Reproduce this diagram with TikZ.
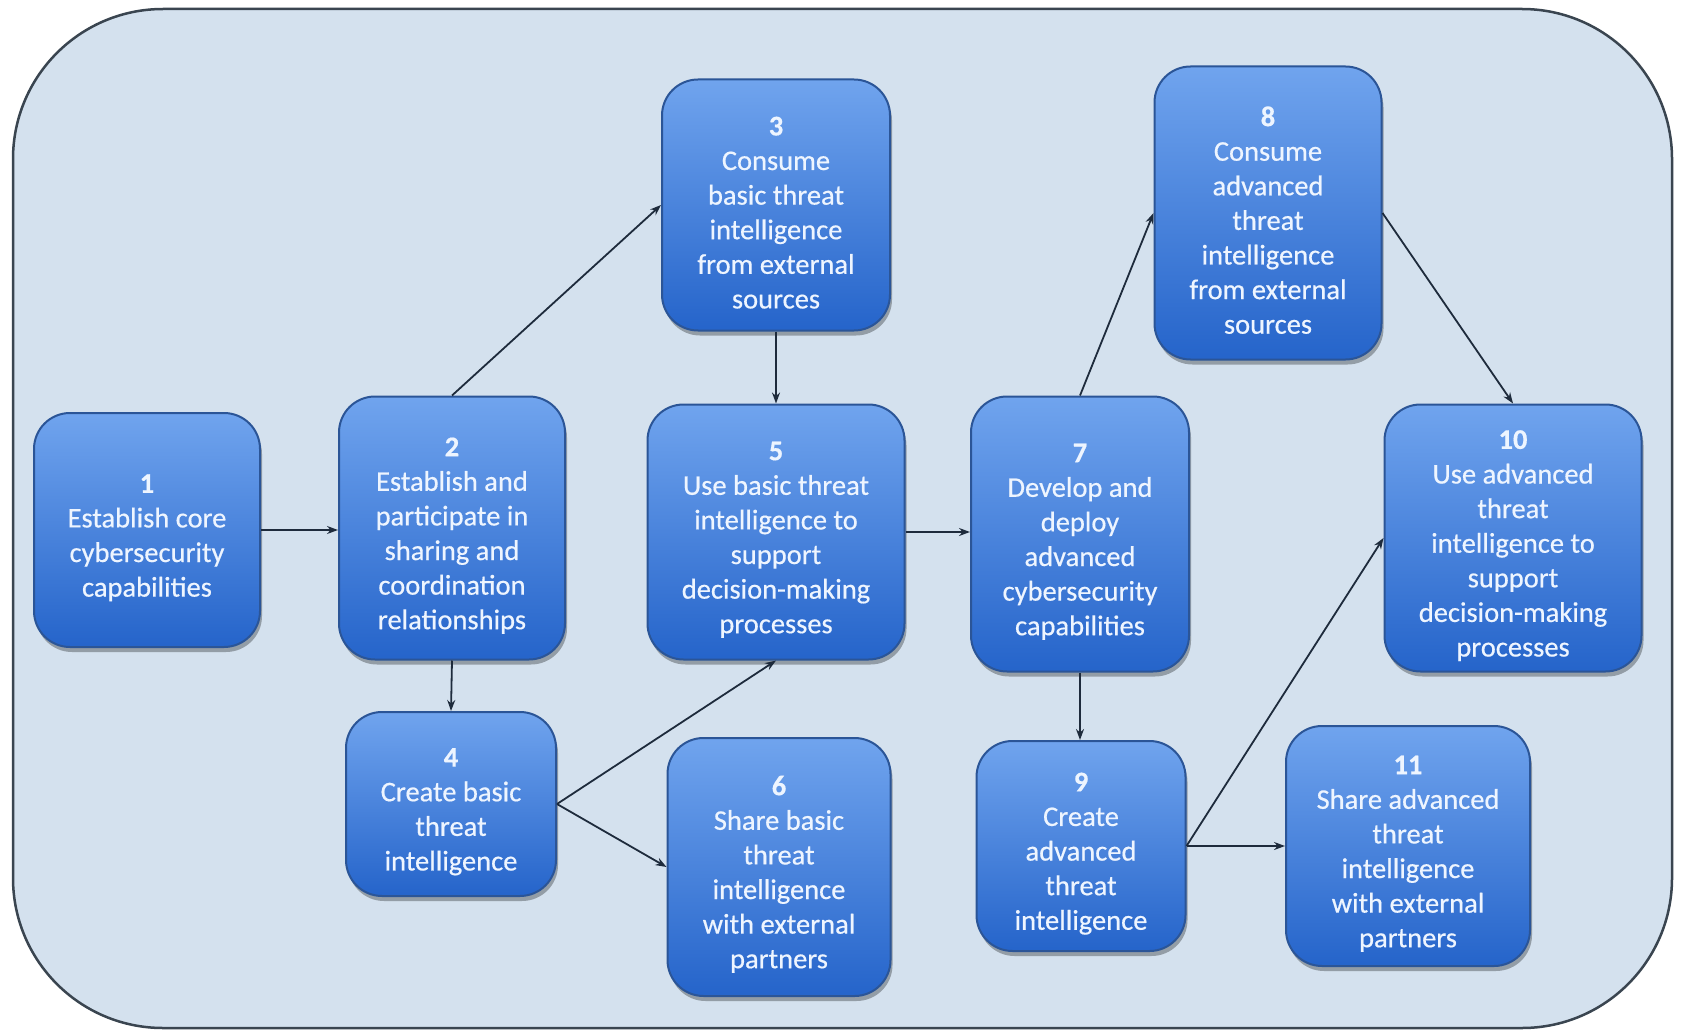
\documentclass[tikz,border=0pt]{standalone}
\usepackage{fontspec}
\setmainfont{Carlito}
\newfontfamily\boxfont{Carlito}[FakeBold=0.5]
\usetikzlibrary{arrows.meta,shadows}
\definecolor{bg}{HTML}{D4E1EE}
\definecolor{boxtop}{HTML}{70A4EE}
\definecolor{boxbot}{HTML}{2564CA}
\definecolor{boxedge}{HTML}{2B5597}
\definecolor{frameedge}{HTML}{3A4550}
\definecolor{arr}{HTML}{1E2B3C}
\definecolor{txt}{HTML}{EEF5FF}
\newcommand{\stepnum}[1]{\rule{0pt}{34pt}\textbf{#1}}
\begin{document}
\begin{tikzpicture}[x=1pt,y=-1pt,
  stepbox/.style={draw=boxedge, line width=2pt, rounded corners=36pt,
    top color=boxtop, bottom color=boxbot, text=txt, align=center,
    font=\boxfont\fontsize{28.5}{34.6}\selectfont, inner sep=0pt,
    drop shadow={shadow xshift=2pt, shadow yshift=-5pt, fill=black, opacity=0.3}},
  conn/.style={draw=arr, line width=1.8pt, -{Stealth[length=11pt,width=8pt]}}]
\useasboundingbox (0,0) rectangle (1683,1035);
\fill[white] (0,0) rectangle (1683,1035);
\draw[frameedge, line width=2.5pt, fill=bg, rounded corners=150pt] (13,9) rectangle (1672,1028);

\node[stepbox, minimum width=226pt, minimum height=234pt] (b1) at (147,530)
  {\stepnum{1}\\Establish core\\cybersecurity\\capabilities};
\node[stepbox, minimum width=226pt, minimum height=263pt] (b2) at (452,528)
  {\stepnum{2}\\Establish and\\participate in\\sharing and\\coordination\\relationships};
\node[stepbox, minimum width=228pt, minimum height=251pt] (b3) at (776,205)
  {\stepnum{3}\\Consume\\basic threat\\intelligence\\from external\\sources};
\node[stepbox, minimum width=210pt, minimum height=184pt] (b4) at (451,804)
  {\stepnum{4}\\Create basic\\threat\\intelligence};
\node[stepbox, minimum width=257pt, minimum height=255pt] (b5) at (776,532)
  {\stepnum{5}\\Use basic threat\\intelligence to\\support\\decision-making\\processes};
\node[stepbox, minimum width=223pt, minimum height=258pt] (b6) at (779,867)
  {\stepnum{6}\\Share basic\\threat\\intelligence\\with external\\partners};
\node[stepbox, minimum width=218pt, minimum height=275pt] (b7) at (1080,534)
  {\stepnum{7}\\Develop and\\deploy\\advanced\\cybersecurity\\capabilities};
\node[stepbox, minimum width=227pt, minimum height=293pt] (b8) at (1268,213)
  {\stepnum{8}\\Consume\\advanced\\threat\\intelligence\\from external\\sources};
\node[stepbox, minimum width=209pt, minimum height=210pt] (b9) at (1081,846)
  {\stepnum{9}\\Create\\advanced\\threat\\intelligence};
\node[stepbox, minimum width=257pt, minimum height=267pt] (b10) at (1513,538)
  {\stepnum{10}\\Use advanced\\threat\\intelligence to\\support\\decision-making\\processes};
\node[stepbox, minimum width=244pt, minimum height=240pt] (b11) at (1408,846)
  {\stepnum{11}\\Share advanced\\threat\\intelligence\\with external\\partners};

\draw[conn] (b1.east) -- (b2.west |- b1.east);
\draw[conn] (b2.north) -- (b3.west);
\draw[conn] (b3.south) -- (b5.north);
\draw[conn] (b2.south) -- (b4.north);
\draw[conn] (b4.east) -- (b5.south);
\draw[conn] (b4.east) -- (b6.west);
\draw[conn] (b5.east) -- (b7.west |- b5.east);
\draw[conn] (b7.north) -- (b8.west);
\draw[conn] (b8.east) -- (b10.north);
\draw[conn] (b7.south) -- (b9.north -| b7.south);
\draw[conn] (b9.east) -- (b10.west);
\draw[conn] (b9.east) -- (b11.west |- b9.east);
\end{tikzpicture}
\end{document}
